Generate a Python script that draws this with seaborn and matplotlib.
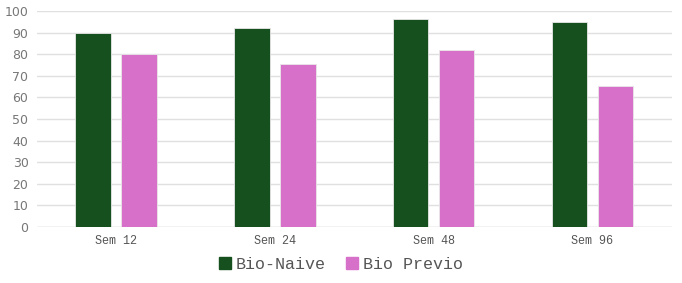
import pandas as pd
import matplotlib.pyplot as plt
import seaborn as sns

# data
semanas = ["Sem 12", "Sem 24", "Sem 48", "Sem 96"]
bio_naive = [90, 92, 96.3, 95]
bio_previo = [80, 75.5, 82, 65.2]
series = ["Bio-Naive", "Bio Previo"]
colores = ["#16501e", "#d670c8"]

df = pd.DataFrame({
    "semana": semanas * 2,
    "valor": bio_naive + bio_previo,
    "grupo": [series[0]] * len(semanas) + [series[1]] * len(semanas),
})

sns.set_style("white")
fig = plt.figure(figsize=(6.82, 2.83), dpi=100)
ax = fig.add_axes([0.054, 0.198, 0.931, 0.763])

sns.barplot(data=df, x="semana", y="valor", hue="grupo", palette=colores,
            saturation=1, width=0.58, gap=0.23, ax=ax, legend=False,
            edgecolor="#e8e8e8", linewidth=0.6)

ax.set_ylim(0, 100)
ax.set_xlim(-0.5, 3.5)
ax.set_yticks(range(0, 101, 10))
ax.yaxis.grid(True, color="#e0e0e0", linewidth=1)
ax.set_axisbelow(True)
sns.despine(ax=ax, left=True, bottom=True)
ax.axhline(0, color="#d8d8d8", linewidth=1, zorder=0)
ax.set_xlabel("")
ax.set_ylabel("")
ax.tick_params(axis="both", length=0, pad=6)
for t in ax.get_yticklabels():
    t.set_fontsize(9)
    t.set_color("#777777")
    t.set_family("DejaVu Sans")
for t in ax.get_xticklabels():
    t.set_fontsize(8.5)
    t.set_color("#555555")
    t.set_family("Liberation Mono")

handles = [plt.Rectangle((0, 0), 1, 1, color=c) for c in colores]
fig.legend(handles, series, loc="center", bbox_to_anchor=(0.5, 0.065), ncol=2,
           frameon=False, handlelength=0.7, handleheight=0.7, handletextpad=0.3,
           columnspacing=1.2, prop={"family": "Liberation Mono", "size": 12},
           labelcolor="#555555")

fig.savefig("out.png", dpi=100)
